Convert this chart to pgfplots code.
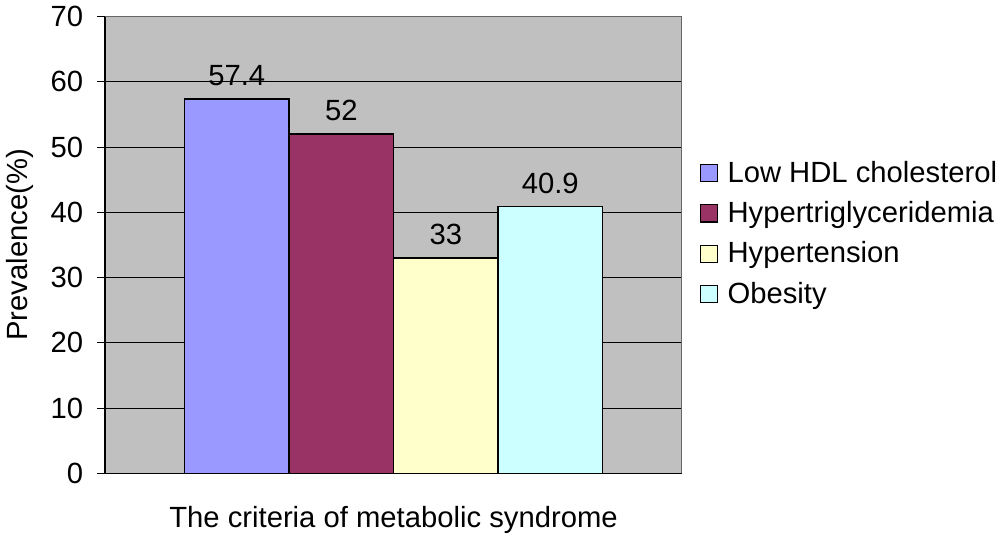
\documentclass[border=0pt]{standalone}
\usepackage{pgfplots}
\pgfplotsset{compat=1.18}
\usepackage{fontspec}
\setmainfont{Liberation Sans}

\definecolor{plotbg}{HTML}{C0C0C0}
\definecolor{cLow}{HTML}{9999FF}
\definecolor{cTri}{HTML}{993366}
\definecolor{cHyp}{HTML}{FFFFCC}
\definecolor{cObe}{HTML}{CCFFFF}

\newcommand{\lblfont}{\fontsize{15.3}{17}\selectfont}

\begin{document}
\begin{tikzpicture}
\begin{axis}[
  scale only axis,
  width=302pt, height=239pt,
  xmin=-1.26, xmax=4.26,
  ymin=0, ymax=70,
  ytick={0,10,...,70},
  xtick=\empty,
  axis background/.style={fill=plotbg},
  axis lines=left,
  axis line style={black, line width=0.6pt, -},
  ymajorgrids,
  major grid style={black, line width=0.5pt},
  major tick length=4pt,
  tick align=outside,
  tick style={black, line width=0.5pt},
  ticklabel style={font=\lblfont},
  yticklabel style={xshift=-4pt},
  /pgf/number format/assume math mode=true,
  ylabel={Prevalence(\%)},
  ylabel style={font=\lblfont, yshift=2pt},
  xlabel={The criteria of metabolic syndrome},
  xlabel style={font=\lblfont, yshift=-10pt},
  ybar, bar width=1, bar shift=0pt,
  nodes near coords,
  every node near coord/.append style={font=\lblfont, black, yshift=3pt},
  legend style={at={(1.03,0.525)}, anchor=west, draw=none, fill=none,
    inner xsep=0pt, font=\lblfont, row sep=4.5pt,
    /tikz/every odd column/.append style={column sep=3pt}},
  legend cell align=left,
  legend image code/.code={\draw[#1, line width=0.6pt] (0pt,-4.5pt) rectangle (9pt,4.5pt);},
  clip=false,
  extra description/.code={
    \draw[gray!80!black, line width=0.5pt] (rel axis cs:0,1) -- (rel axis cs:1,1) -- (rel axis cs:1,0);
  },
]
\addplot[fill=cLow, draw=black, line width=0.75pt] coordinates {(0,57.4)};
\addlegendentry{Low HDL cholesterol}
\addplot[fill=cTri, draw=black, line width=0.75pt] coordinates {(1,52)};
\addlegendentry{Hypertriglyceridemia}
\addplot[fill=cHyp, draw=black, line width=0.75pt] coordinates {(2,33)};
\addlegendentry{Hypertension}
\addplot[fill=cObe, draw=black, line width=0.75pt] coordinates {(3,40.9)};
\addlegendentry{Obesity}
\end{axis}
\end{tikzpicture}
\end{document}
